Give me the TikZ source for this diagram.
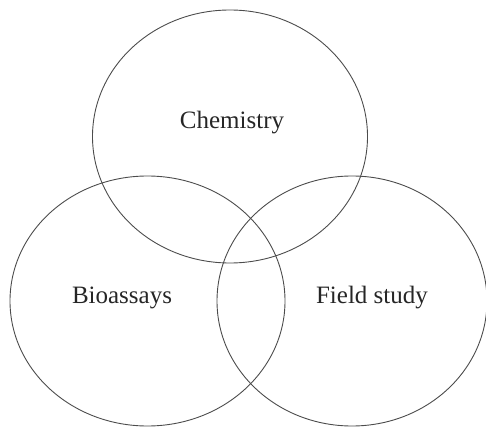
\documentclass[tikz,border=0pt]{standalone}
\usepackage{fontspec}
\setmainfont{Liberation Serif}
\begin{document}
\begin{tikzpicture}[x=1pt,y=-1pt,
  setshape/.style={draw=black!70,line width=0.9pt},
  lab/.style={font=\fontsize{25}{28}\selectfont,text=black!85}]
\useasboundingbox (0,0) rectangle (486,427);
\begin{scope}
\clip (0,0) rectangle (486,427);
\draw[setshape] (230,136.5) ellipse [x radius=137.5, y radius=126.5];
\draw[setshape] (147.5,301) ellipse [x radius=137.5, y radius=125];
\draw[setshape] (352,301) ellipse [x radius=135, y radius=125];
\end{scope}
\node[lab] (chem) at (232,123) {Chemistry};
\node[lab] (bio) at (122,298) {Bioassays};
\node[lab] (field) at (372,298) {Field study};
\end{tikzpicture}
\end{document}
